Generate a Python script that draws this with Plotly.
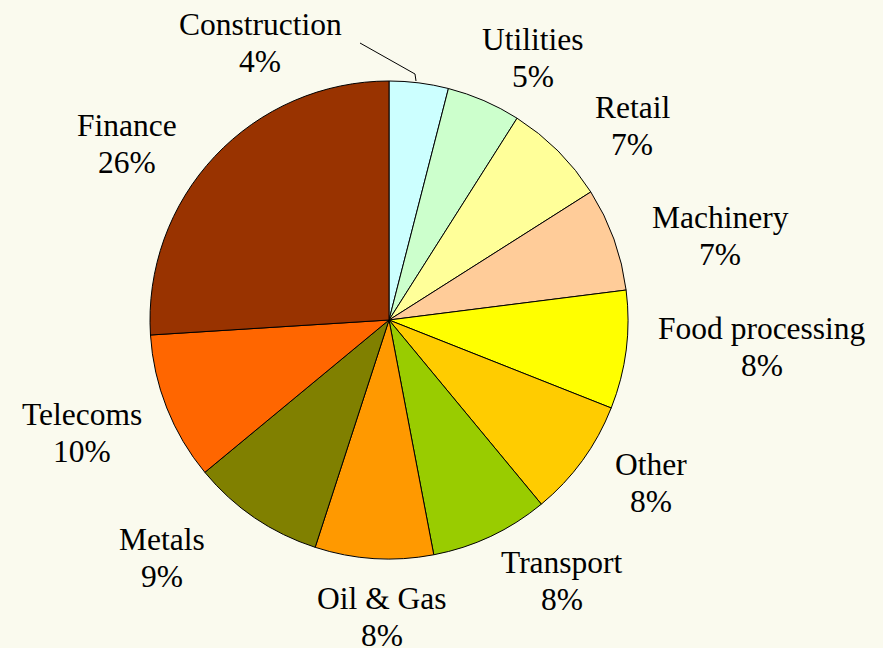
"""Sector breakdown pie with Excel-style outside labels."""
import plotly.graph_objects as go

W, H = 883, 648

SECTORS = ["Construction", "Utilities", "Retail", "Machinery", "Food processing",
           "Other", "Transport", "Oil & Gas", "Metals", "Telecoms", "Finance"]
SHARES = [4, 5, 7, 7, 8, 8, 8, 8, 9, 10, 26]
COLORS = ["#CCFFFF", "#CCFFCC", "#FFFF99", "#FFCC99", "#FFFF00",
          "#FFCC00", "#99CC00", "#FF9900", "#808000", "#FF6600", "#993300"]

# label block centres in pixels (x, y from top)
LABEL_PX = [(260, 43), (533, 58), (632, 126), (720, 236), (762, 347),
            (651, 483), (562, 581), (382, 617), (162, 558), (82, 433), (127, 144)]
LINE_GAP = 37  # px between the name line and the percent line

FONT = '"Liberation Serif", "Times New Roman", Times, serif'


def px(x, y):
    return x / W, 1 - y / H


# pie geometry in pixels
cx, cy, r = 389, 320, 239

fig = go.Figure(
    go.Pie(
        labels=SECTORS,
        values=SHARES,
        sort=False,
        direction="clockwise",
        rotation=0,
        textinfo="none",
        hoverinfo="label+percent",
        marker=dict(colors=COLORS, line=dict(color="black", width=1)),
        domain=dict(x=[(cx - r) / W, (cx + r) / W], y=[1 - (cy + r) / H, 1 - (cy - r) / H]),
        showlegend=False,
    )
)

total = sum(SHARES)
annotations = []
for name, v, (lx, ly) in zip(SECTORS, SHARES, LABEL_PX):
    lines = [(name, ly - LINE_GAP / 2), (f"{round(100 * v / total)}%", ly + LINE_GAP / 2)]
    for txt, yy in lines:
        ax, ay = px(lx, yy)
        annotations.append(dict(
            x=ax, y=ay, xref="paper", yref="paper", text=txt,
            showarrow=False, xanchor="center", yanchor="middle",
            font=dict(family=FONT, size=31.5, color="black"),
        ))

# leader line for the thin Construction slice
p1, p2, p3 = px(360, 43), px(415, 74), px(416, 81)
fig.add_shape(
    type="path", xref="paper", yref="paper",
    path=f"M {p1[0]} {p1[1]} L {p2[0]} {p2[1]} L {p3[0]} {p3[1]}",
    line=dict(color="black", width=1),
)

fig.update_layout(
    width=W, height=H,
    margin=dict(l=0, r=0, t=0, b=0),
    paper_bgcolor="#FAFAEE",
    plot_bgcolor="#FAFAEE",
    annotations=annotations,
    font=dict(family=FONT),
)

fig.write_html("out.html", config={"displayModeBar": False},
               post_script="document.body.style.margin='0';")
